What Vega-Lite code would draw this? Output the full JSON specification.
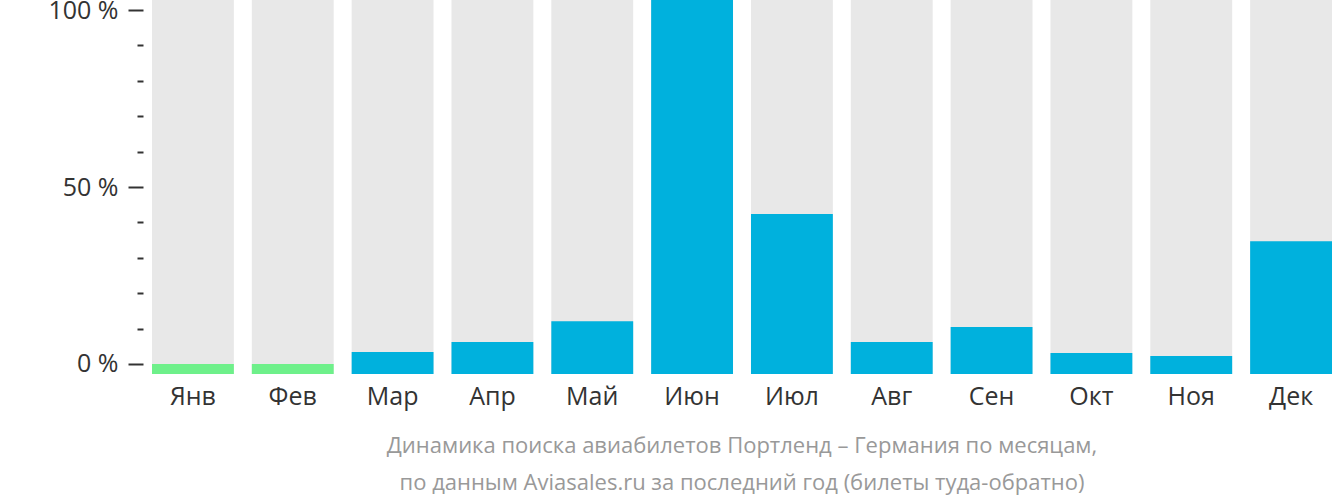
{
  "$schema": "https://vega.github.io/schema/vega-lite/v6.json",
  "autosize": "none",
  "width": 1180,
  "height": 374,
  "padding": {"left": 152, "top": 0, "right": 0, "bottom": 128},
  "background": "white",
  "config": {
    "view": {"stroke": null},
    "font": "Open Sans"
  },
  "title": {
    "text": ["Динамика поиска авиабилетов Портленд – Германия по месяцам,", "по данным Aviasales.ru за последний год (билеты туда-обратно)"],
    "orient": "bottom",
    "anchor": "middle",
    "font": "Open Sans",
    "fontSize": 22,
    "fontWeight": "normal",
    "color": "#999999",
    "lineHeight": 37,
    "offset": 27
  },
  "data": {
    "values": [
      {"month": "Янв", "value": 0, "full": 102.825},
      {"month": "Фев", "value": 0, "full": 102.825},
      {"month": "Мар", "value": 3.4, "full": 102.825},
      {"month": "Апр", "value": 6.2, "full": 102.825},
      {"month": "Май", "value": 12.1, "full": 102.825},
      {"month": "Июн", "value": 102.825, "full": 102.825},
      {"month": "Июл", "value": 42.4, "full": 102.825},
      {"month": "Авг", "value": 6.2, "full": 102.825},
      {"month": "Сен", "value": 10.45, "full": 102.825},
      {"month": "Окт", "value": 3.1, "full": 102.825},
      {"month": "Ноя", "value": 2.26, "full": 102.825},
      {"month": "Дек", "value": 34.7, "full": 102.825}
    ]
  },
  "encoding": {
    "x": {
      "field": "month",
      "type": "nominal",
      "sort": null,
      "scale": {"paddingInner": 0.18, "paddingOuter": 0},
      "axis": {
        "title": null,
        "domain": false,
        "ticks": false,
        "labelAngle": 0,
        "labelFont": "Open Sans",
        "labelFontSize": 25,
        "labelColor": "#333333",
        "labelPadding": 10
      }
    }
  },
  "layer": [
    {
      "mark": {"type": "bar", "color": "#e8e8e8"},
      "encoding": {
        "y": {
          "field": "full",
          "type": "quantitative",
          "scale": {"domain": [-2.825, 102.825], "nice": false, "zero": false},
          "axis": {
            "title": null,
            "domain": false,
            "grid": false,
            "offset": 9,
            "values": [0, 10, 20, 30, 40, 50, 60, 70, 80, 90, 100],
            "tickCount": 20,
            "labelOverlap": false,
            "labelFlush": false,
            "tickSize": {"condition": {"test": "datum.value % 50 === 0", "value": 15}, "value": 6},
            "tickWidth": 2,
            "tickColor": "#333333",
            "labelExpr": "datum.value % 50 === 0 ? datum.value + ' %' : ''",
            "labelFont": "Open Sans",
            "labelFontSize": 25,
            "labelColor": "#333333",
            "labelPadding": 10
          }
        },
        "y2": {"datum": -2.825}
      }
    },
    {
      "mark": {"type": "bar"},
      "encoding": {
        "y": {"field": "value", "type": "quantitative"},
        "y2": {"datum": -2.825},
        "color": {
          "condition": {"test": "datum.value <= 0", "value": "#6ef08a"},
          "value": "#00b1dd"
        }
      }
    }
  ]
}
